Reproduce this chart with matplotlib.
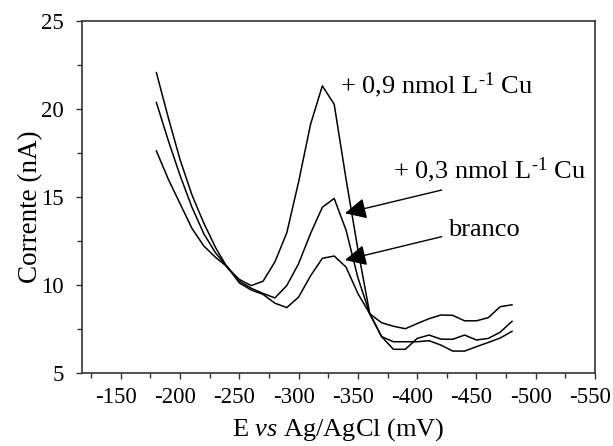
import matplotlib
matplotlib.use("Agg")
import matplotlib.pyplot as plt
import matplotlib.transforms as mtransforms
from matplotlib.ticker import MultipleLocator

plt.rcParams['font.family'] = ['Liberation Serif', 'DejaVu Serif']
plt.rcParams['mathtext.fontset'] = 'custom'
plt.rcParams['mathtext.rm'] = 'Liberation Serif'
plt.rcParams['mathtext.it'] = 'Liberation Serif:italic'

potential = [-180, -190, -200, -210, -220, -230, -240, -250, -260, -270,
             -280, -290, -300, -310, -320, -330, -340, -350, -360, -370,
             -380, -390, -400, -410, -420, -430, -440, -450, -460, -470, -480]

cu_09 = [22.05, 19.5, 17.1, 15.1, 13.5, 12.1, 10.95, 10.3, 9.95, 10.2,
         11.3, 12.95, 15.85, 19.1, 21.3, 20.25, 16.0, 12.0, 8.35, 7.05,
         6.33, 6.33, 6.95, 7.14, 6.91, 6.90, 7.14, 6.86, 6.95, 7.3, 7.92]

cu_03 = [20.35, 18.2, 16.2, 14.4, 12.9, 11.8, 11.0, 10.2, 9.8, 9.5,
         9.25, 9.95, 11.2, 12.9, 14.4, 14.9, 13.1, 10.4, 8.35, 7.05,
         6.76, 6.76, 6.76, 6.82, 6.57, 6.23, 6.23, 6.48, 6.72, 6.97, 7.35]

branco = [17.6, 16.0, 14.6, 13.2, 12.2, 11.55, 11.0, 10.1, 9.7, 9.45,
          8.95, 8.7, 9.3, 10.5, 11.5, 11.63, 11.0, 9.5, 8.35, 7.84,
          7.64, 7.5, 7.79, 8.07, 8.28, 8.26, 7.95, 7.95, 8.13, 8.75, 8.86]

x_ticks = [-150, -200, -250, -300, -350, -400, -450, -500, -550]
y_ticks = [5, 10, 15, 20, 25]

fig = plt.figure(figsize=(6.13, 4.46), dpi=100)
ax = fig.add_axes([0.1333, 0.1643, 0.9706 - 0.1333, 0.9536 - 0.1643])

for series in (cu_09, cu_03, branco):
    ax.plot(potential, series, color='black', lw=1.1)

ax.set_xlim(-117, -550)
ax.set_ylim(5, 25)
ax.set_xticks(x_ticks)
ax.set_xticklabels([str(t) for t in x_ticks])
ax.set_yticks(y_ticks)
ax.xaxis.set_minor_locator(MultipleLocator(25))
ax.yaxis.set_minor_locator(MultipleLocator(2.5))
ax.tick_params(which='major', direction='out', length=4, width=1.0,
               labelsize=16.5, color='#333333')
ax.tick_params(which='minor', direction='out', length=3.5, width=1.0,
               color='#333333')
ax.tick_params(axis='x', pad=6)
ax.tick_params(axis='y', pad=9)
for sp in ax.spines.values():
    sp.set_color('#333333')
    sp.set_linewidth(1.2)

shift = mtransforms.ScaledTranslation(-5 / 100, 0, fig.dpi_scale_trans)
for lab in ax.get_xticklabels():
    lab.set_transform(lab.get_transform() + shift)

ax.set_xlabel(r'E $\mathit{vs}$ Ag/AgCl (mV)', fontsize=19, labelpad=6)
ax.set_ylabel('Corrente (nA)', fontsize=19.5)
ax.yaxis.set_label_coords(-0.076, 0.472)

ax.text(-334.9, 21.35, r'+ 0,9 nmol L$^{\text{-}1}$ Cu', fontsize=19,
        ha='left', va='center')
ax.text(-379.6, 16.52, r'+ 0,3 nmol L$^{\text{-}1}$ Cu', fontsize=19,
        ha='left', va='center')
ax.text(-426, 13.1, 'branco', fontsize=19, ha='left', va='center')

arrow_kw = dict(arrowstyle='-|>,head_length=0.65,head_width=0.32',
                color='black', lw=1.0, shrinkA=0, shrinkB=0,
                mutation_scale=20)
ax.annotate('', xy=(-339.1, 14.06), xytext=(-420.7, 15.38),
            arrowprops=arrow_kw)
ax.annotate('', xy=(-339.1, 11.4), xytext=(-420.7, 12.73),
            arrowprops=arrow_kw)

fig.savefig('out.png', dpi=100)
